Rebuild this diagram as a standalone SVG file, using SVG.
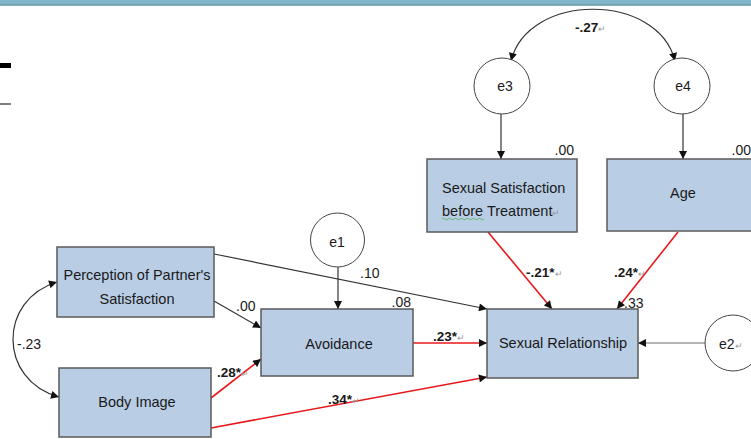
<svg xmlns="http://www.w3.org/2000/svg" width="751" height="439" viewBox="0 0 751 439">
<defs>
<marker id="ah" viewBox="0 0 10 10" refX="10" refY="5" markerWidth="9" markerHeight="8" markerUnits="userSpaceOnUse" orient="auto-start-reverse">
<path d="M0,0 L10,5 L0,10 z" fill="#111"/>
</marker>
<style>
.box{fill:#b9cde5;stroke:#5a5a5a;stroke-width:1.5}
.circ{fill:#fff;stroke:#444;stroke-width:1}
.t{font-family:"Liberation Sans",Arial,sans-serif;font-size:14.5px;fill:#1a1a1a}
.n{font-family:"Liberation Sans",Arial,sans-serif;font-size:14px;fill:#1a1a1a}
.b{font-family:"Liberation Sans",Arial,sans-serif;font-size:13.5px;font-weight:bold;fill:#1a1a1a}
.ret{font-size:9px;fill:#999;font-weight:normal}
.dk{fill:none;stroke:#333;stroke-width:1.2}
.rd{fill:none;stroke:#e8191c;stroke-width:1.6}
.gy{fill:none;stroke:#b5b5b5;stroke-width:2}
</style>
</defs>
<rect x="0" y="0" width="751" height="5" fill="#80b6c8"/>
<rect x="0" y="4.5" width="751" height="1.2" fill="#5b8e9e"/>
<rect x="0" y="63" width="11" height="5" fill="#000"/>
<rect x="0" y="103.5" width="11" height="1" fill="#000"/>

<g id="connectors">
<path class="dk" d="M511,61 C528,-8 658,-8 675,61" marker-start="url(#ah)" marker-end="url(#ah)"/>
<path class="dk" d="M57,282 C-2,300 -2,380 59,397" marker-start="url(#ah)" marker-end="url(#ah)"/>
<line class="dk" x1="501" y1="114" x2="501" y2="159" marker-end="url(#ah)"/>
<line class="dk" x1="683" y1="113" x2="683" y2="159" marker-end="url(#ah)"/>
<line class="dk" x1="338" y1="267" x2="338" y2="309" marker-end="url(#ah)"/>
<line class="gy" x1="705" y1="343" x2="638" y2="343" marker-end="url(#ah)"/>
<line class="dk" x1="214" y1="301" x2="261" y2="328" marker-end="url(#ah)"/>
<line class="dk" x1="214" y1="254" x2="487" y2="309" marker-end="url(#ah)"/>
<line class="rd" x1="211" y1="398" x2="261" y2="359" marker-end="url(#ah)"/>
<line class="rd" x1="413" y1="343" x2="487" y2="343" marker-end="url(#ah)"/>
<line class="rd" x1="211" y1="428" x2="487" y2="377" marker-end="url(#ah)"/>
<line class="rd" x1="488" y1="232" x2="552" y2="309" marker-end="url(#ah)"/>
<line class="rd" x1="678" y1="232" x2="617" y2="309" marker-end="url(#ah)"/>
<text class="b" x="575" y="32">-.27<tspan class="ret">↵</tspan></text>
<text class="n" x="-2" y="349" dx="19">-.23</text>
<text class="n" x="236" y="311">.00</text>
<text class="n" x="360" y="278">.10</text>
<text class="b" x="217" y="377">.28*<tspan class="ret">↵</tspan></text>
<text class="b" x="433" y="341">.23*<tspan class="ret">↵</tspan></text>
<text class="b" x="328" y="404">.34*<tspan class="ret">↵</tspan></text>
<text class="b" x="526" y="277">-.21*<tspan class="ret">↵</tspan></text>
<text class="b" x="614" y="277">.24*<tspan class="ret">↵</tspan></text>
</g>

<g id="e3">
<circle class="circ" cx="502" cy="86" r="28"/>
<text class="n" x="505" y="91" text-anchor="middle">e3</text>
</g>
<g id="e4">
<circle class="circ" cx="682" cy="86" r="28"/>
<text class="n" x="683" y="91" text-anchor="middle">e4</text>
</g>
<g id="e1">
<circle class="circ" cx="337.5" cy="240" r="27"/>
<text class="n" x="337" y="247" text-anchor="middle">e1</text>
</g>
<g id="e2">
<circle class="circ" cx="733" cy="343" r="28"/>
<text class="n" x="719" y="349">e2<tspan class="ret">↵</tspan></text>
</g>

<g id="sexual-satisfaction">
<rect class="box" x="427" y="159" width="150" height="73"/>
<text class="t" x="442" y="193">Sexual Satisfaction</text>
<text class="t" x="442" y="216">before Treatment<tspan class="ret">↵</tspan></text>
<path d="M442,219 q1.5,-1.5 3,0 t3,0 t3,0 t3,0 t3,0 t3,0 t3,0 t3,0 t3,0 t3,0 t3,0 t3,0 t3,0 t3,0" fill="none" stroke="#4caf50" stroke-width="0.8"/>
<text class="n" x="574" y="155" text-anchor="end">.00</text>
</g>
<g id="age">
<rect class="box" x="607" y="159" width="150" height="72"/>
<text class="t" x="683" y="198" text-anchor="middle">Age</text>
<text class="n" x="751" y="155" text-anchor="end">.00</text>
</g>
<g id="perception">
<rect class="box" x="57" y="247" width="157" height="70"/>
<text class="t" x="137" y="280" text-anchor="middle">Perception of Partner's</text>
<text class="t" x="137" y="304" text-anchor="middle">Satisfaction</text>
</g>
<g id="body-image">
<rect class="box" x="59" y="368" width="152" height="69"/>
<text class="t" x="137" y="407" text-anchor="middle">Body Image</text>
</g>
<g id="avoidance">
<rect class="box" x="261" y="309" width="152" height="67"/>
<text class="t" x="339" y="349" text-anchor="middle">Avoidance</text>
<text class="n" x="411" y="307" text-anchor="end">.08</text>
</g>
<g id="sexual-relationship">
<rect class="box" x="487" y="309" width="151" height="69"/>
<text class="t" x="563" y="348" text-anchor="middle">Sexual Relationship</text>
<text class="n" x="624" y="308">.33</text>
</g>
</svg>
